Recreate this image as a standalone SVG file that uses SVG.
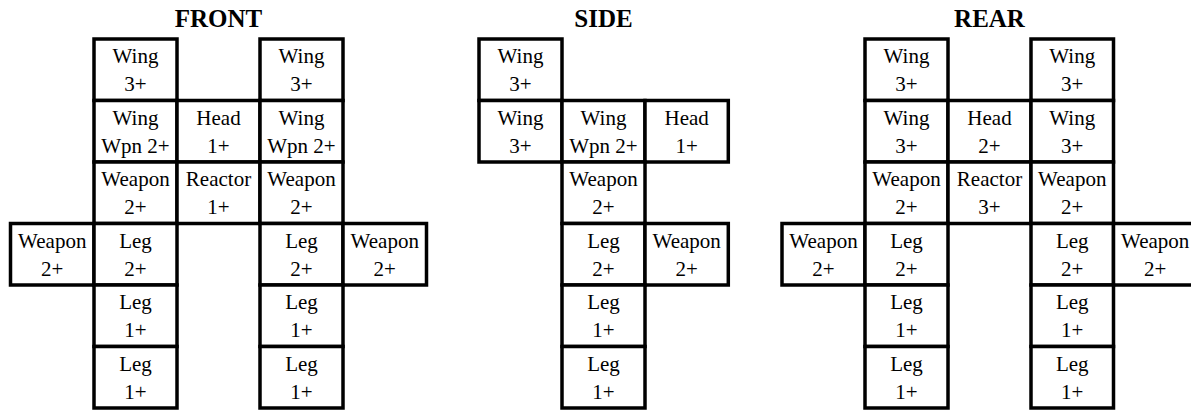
<svg xmlns="http://www.w3.org/2000/svg" width="1191" height="410" viewBox="0 0 1191 410">
<style>
.c rect{fill:#fff;stroke:#000;stroke-width:3.5}
.c text,.h{font-family:"Liberation Serif","Times New Roman",serif;text-anchor:middle;fill:#000}
.c text{font-size:21px}
.h{font-size:25px;font-weight:bold}
</style>
<rect width="1191" height="410" fill="#fff"/>
<text class="h" x="218.5" y="26.5">FRONT</text>
<text class="h" x="603.5" y="26.5">SIDE</text>
<text class="h" x="989.5" y="26.5">REAR</text>
<g id="connectors"/>
<!-- FRONT -->
<g id="front">
<g id="f-wing-l" class="c" transform="translate(94,39)"><rect width="83" height="61.5"/><text x="41.5" y="24">Wing</text><text x="41.5" y="52">3+</text></g>
<g id="f-wing-r" class="c" transform="translate(260,39)"><rect width="83" height="61.5"/><text x="41.5" y="24">Wing</text><text x="41.5" y="52">3+</text></g>
<g id="f-wingwpn-l" class="c" transform="translate(94,100.5)"><rect width="83" height="61.5"/><text x="41.5" y="24">Wing</text><text x="41.5" y="52">Wpn 2+</text></g>
<g id="f-head" class="c" transform="translate(177,100.5)"><rect width="83" height="61.5"/><text x="41.5" y="24">Head</text><text x="41.5" y="52">1+</text></g>
<g id="f-wingwpn-r" class="c" transform="translate(260,100.5)"><rect width="83" height="61.5"/><text x="41.5" y="24">Wing</text><text x="41.5" y="52">Wpn 2+</text></g>
<g id="f-weapon-l" class="c" transform="translate(94,162)"><rect width="83" height="61.5"/><text x="41.5" y="24">Weapon</text><text x="41.5" y="52">2+</text></g>
<g id="f-reactor" class="c" transform="translate(177,162)"><rect width="83" height="61.5"/><text x="41.5" y="24">Reactor</text><text x="41.5" y="52">1+</text></g>
<g id="f-weapon-r" class="c" transform="translate(260,162)"><rect width="83" height="61.5"/><text x="41.5" y="24">Weapon</text><text x="41.5" y="52">2+</text></g>
<g id="f-arm-l" class="c" transform="translate(10.5,223.5)"><rect width="83.5" height="61.5"/><text x="41.75" y="24">Weapon</text><text x="41.75" y="52">2+</text></g>
<g id="f-leg1-l" class="c" transform="translate(94,223.5)"><rect width="83" height="61.5"/><text x="41.5" y="24">Leg</text><text x="41.5" y="52">2+</text></g>
<g id="f-leg1-r" class="c" transform="translate(260,223.5)"><rect width="83" height="61.5"/><text x="41.5" y="24">Leg</text><text x="41.5" y="52">2+</text></g>
<g id="f-arm-r" class="c" transform="translate(343,223.5)"><rect width="83.5" height="61.5"/><text x="41.75" y="24">Weapon</text><text x="41.75" y="52">2+</text></g>
<g id="f-leg2-l" class="c" transform="translate(94,285)"><rect width="83" height="61.5"/><text x="41.5" y="24">Leg</text><text x="41.5" y="52">1+</text></g>
<g id="f-leg2-r" class="c" transform="translate(260,285)"><rect width="83" height="61.5"/><text x="41.5" y="24">Leg</text><text x="41.5" y="52">1+</text></g>
<g id="f-leg3-l" class="c" transform="translate(94,346.5)"><rect width="83" height="61.5"/><text x="41.5" y="24">Leg</text><text x="41.5" y="52">1+</text></g>
<g id="f-leg3-r" class="c" transform="translate(260,346.5)"><rect width="83" height="61.5"/><text x="41.5" y="24">Leg</text><text x="41.5" y="52">1+</text></g>
</g>
<!-- SIDE -->
<g id="side">
<g id="s-wing-top" class="c" transform="translate(479,39)"><rect width="83" height="61.5"/><text x="41.5" y="24">Wing</text><text x="41.5" y="52">3+</text></g>
<g id="s-wing" class="c" transform="translate(479,100.5)"><rect width="83" height="61.5"/><text x="41.5" y="24">Wing</text><text x="41.5" y="52">3+</text></g>
<g id="s-wingwpn" class="c" transform="translate(562,100.5)"><rect width="83" height="61.5"/><text x="41.5" y="24">Wing</text><text x="41.5" y="52">Wpn 2+</text></g>
<g id="s-head" class="c" transform="translate(645,100.5)"><rect width="83.3" height="61.5"/><text x="41.65" y="24">Head</text><text x="41.65" y="52">1+</text></g>
<g id="s-weapon" class="c" transform="translate(562,162)"><rect width="83" height="61.5"/><text x="41.5" y="24">Weapon</text><text x="41.5" y="52">2+</text></g>
<g id="s-leg1" class="c" transform="translate(562,223.5)"><rect width="83" height="61.5"/><text x="41.5" y="24">Leg</text><text x="41.5" y="52">2+</text></g>
<g id="s-arm" class="c" transform="translate(645,223.5)"><rect width="83.3" height="61.5"/><text x="41.65" y="24">Weapon</text><text x="41.65" y="52">2+</text></g>
<g id="s-leg2" class="c" transform="translate(562,285)"><rect width="83" height="61.5"/><text x="41.5" y="24">Leg</text><text x="41.5" y="52">1+</text></g>
<g id="s-leg3" class="c" transform="translate(562,346.5)"><rect width="83" height="61.5"/><text x="41.5" y="24">Leg</text><text x="41.5" y="52">1+</text></g>
</g>
<!-- REAR -->
<g id="rear">
<g id="r-wing-l" class="c" transform="translate(865,39)"><rect width="83" height="61.5"/><text x="41.5" y="24">Wing</text><text x="41.5" y="52">3+</text></g>
<g id="r-wing-r" class="c" transform="translate(1031,39)"><rect width="82.5" height="61.5"/><text x="41.25" y="24">Wing</text><text x="41.25" y="52">3+</text></g>
<g id="r-wing2-l" class="c" transform="translate(865,100.5)"><rect width="83" height="61.5"/><text x="41.5" y="24">Wing</text><text x="41.5" y="52">3+</text></g>
<g id="r-head" class="c" transform="translate(948,100.5)"><rect width="83" height="61.5"/><text x="41.5" y="24">Head</text><text x="41.5" y="52">2+</text></g>
<g id="r-wing2-r" class="c" transform="translate(1031,100.5)"><rect width="82.5" height="61.5"/><text x="41.25" y="24">Wing</text><text x="41.25" y="52">3+</text></g>
<g id="r-weapon-l" class="c" transform="translate(865,162)"><rect width="83" height="61.5"/><text x="41.5" y="24">Weapon</text><text x="41.5" y="52">2+</text></g>
<g id="r-reactor" class="c" transform="translate(948,162)"><rect width="83" height="61.5"/><text x="41.5" y="24">Reactor</text><text x="41.5" y="52">3+</text></g>
<g id="r-weapon-r" class="c" transform="translate(1031,162)"><rect width="82.5" height="61.5"/><text x="41.25" y="24">Weapon</text><text x="41.25" y="52">2+</text></g>
<g id="r-arm-l" class="c" transform="translate(782,223.5)"><rect width="83" height="61.5"/><text x="41.5" y="24">Weapon</text><text x="41.5" y="52">2+</text></g>
<g id="r-leg1-l" class="c" transform="translate(865,223.5)"><rect width="83" height="61.5"/><text x="41.5" y="24">Leg</text><text x="41.5" y="52">2+</text></g>
<g id="r-leg1-r" class="c" transform="translate(1031,223.5)"><rect width="82.5" height="61.5"/><text x="41.25" y="24">Leg</text><text x="41.25" y="52">2+</text></g>
<g id="r-arm-r" class="c" transform="translate(1113.5,223.5)"><rect width="83.3" height="61.5"/><text x="41.65" y="24">Weapon</text><text x="41.65" y="52">2+</text></g>
<g id="r-leg2-l" class="c" transform="translate(865,285)"><rect width="83" height="61.5"/><text x="41.5" y="24">Leg</text><text x="41.5" y="52">1+</text></g>
<g id="r-leg2-r" class="c" transform="translate(1031,285)"><rect width="82.5" height="61.5"/><text x="41.25" y="24">Leg</text><text x="41.25" y="52">1+</text></g>
<g id="r-leg3-l" class="c" transform="translate(865,346.5)"><rect width="83" height="61.5"/><text x="41.5" y="24">Leg</text><text x="41.5" y="52">1+</text></g>
<g id="r-leg3-r" class="c" transform="translate(1031,346.5)"><rect width="82.5" height="61.5"/><text x="41.25" y="24">Leg</text><text x="41.25" y="52">1+</text></g>
</g>
</svg>
